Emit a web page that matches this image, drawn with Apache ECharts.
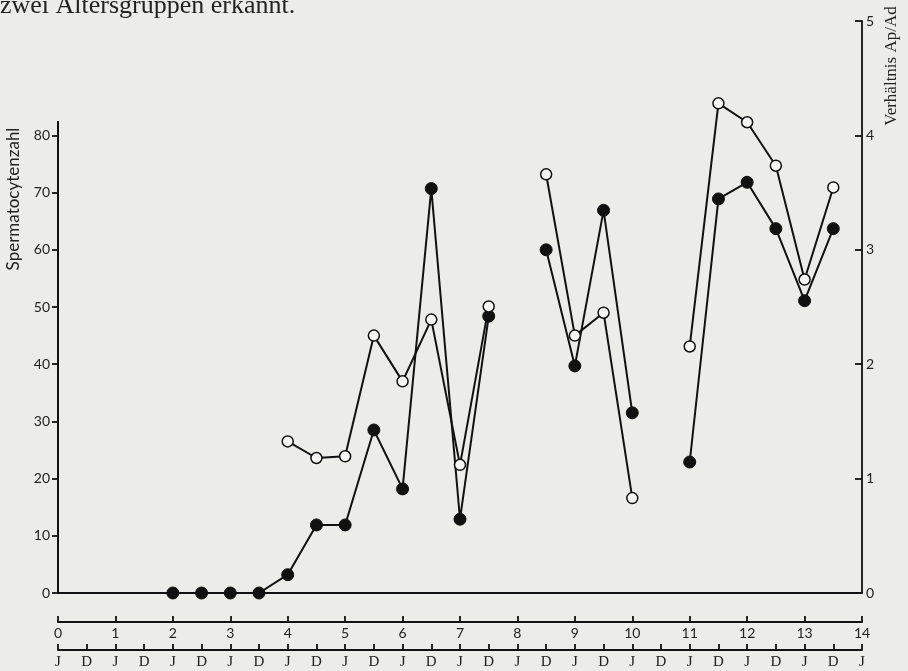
<!DOCTYPE html>
<html>
<head>
<meta charset="utf-8">
<script src="https://cdn.jsdelivr.net/npm/echarts@6/dist/echarts.min.js"></script>
<style>
html,body{margin:0;padding:0;background:#ecece8;}
#c{width:908px;height:671px;}
</style>
</head>
<body>
<div id="c"></div>
<script>
// Age in years (half-year steps)
var ages = [2,2.5,3,3.5,4,4.5,5,5.5,6,6.5,7,7.5,8,8.5,9,9.5,10,10.5,11,11.5,12,12.5,13,13.5];
// Filled circles (Spermatocytenzahl)
var filledValues = [0,0,0,0,3.2,11.9,11.9,28.5,18.2,70.7,12.9,48.4,null,60,39.7,66.9,31.5,null,22.9,68.9,71.8,63.7,51.1,63.7];
// Open circles (Verhältnis Ap/Ad, shown in left-axis units: 20 = 1.0)
var openValues = [null,null,null,null,26.5,23.6,23.9,45,37,47.8,22.4,50.1,null,73.2,45,49,16.6,null,43.1,85.6,82.3,74.7,54.8,70.9];
var leftTicks = [0,10,20,30,40,50,60,70,80];
var rightTicks = [0,1,2,3,4,5];
var yearTicks = [0,1,2,3,4,5,6,7,8,9,10,11,12,13,14];
var halfYearLabels = ['J','D'];

function pairs(vals){ return ages.map(function(a,i){ return [a, vals[i]]; }); }

var leftAxisTop = 82.5; // where the drawn left axis line ends
var chart = echarts.init(document.getElementById('c'));
var numFont = 'Lato';
var serif = 'Liberation Serif';
var ink = '#111';
chart.setOption({
  backgroundColor: '#ecece8',
  animation: false,
  graphic: [{
    type: 'text', left: 0, top: -7,
    style: {text: 'zwei Altersgruppen erkannt.', font: '26px "Liberation Serif"', fill: '#222'}
  }, {
    type: 'text', x: 892, y: 66, rotation: Math.PI/2,
    style: {text: 'Verhältnis Ap/Ad', font: '17px "Liberation Serif"', fill: '#222', align: 'center', verticalAlign: 'middle'}
  }, {
    type: 'text', x: 14, y: 199, rotation: Math.PI/2,
    style: {text: 'Spermatocytenzahl', font: '17px "Lato"', fill: '#222', align: 'center', verticalAlign: 'middle'}
  }],
  grid: [
    {left: 58, right: 46, top: 21, bottom: 78}
  ],
  xAxis: [
    {gridIndex: 0, type: 'value', min: 0, max: 14, position: 'bottom',
     axisLine: {show: true, onZero: false, lineStyle: {color: ink, width: 1.8}},
     axisTick: {show: false}, axisLabel: {show: false}, splitLine: {show: false}},
    {gridIndex: 0, type: 'value', min: 0, max: 14, interval: 1, position: 'bottom', offset: 29,
     axisLine: {show: true, onZero: false, lineStyle: {color: ink, width: 1.8}},
     axisTick: {show: true, inside: true, length: 6, lineStyle: {color: ink, width: 1.8}},
     axisLabel: {show: true, margin: 4, color: '#222', fontFamily: numFont, fontSize: 14,
       customValues: yearTicks},
     splitLine: {show: false}},
    {gridIndex: 0, type: 'value', min: 0, max: 14, interval: 0.5, position: 'bottom', offset: 57,
     axisLine: {show: true, onZero: false, lineStyle: {color: ink, width: 1.8}},
     axisTick: {show: true, inside: true, length: 6, lineStyle: {color: ink, width: 1.8}},
     axisLabel: {show: true, margin: 5, color: '#222', fontFamily: serif, fontSize: 15,
       formatter: function(v){ return halfYearLabels[Math.round(v*2) % 2]; }},
     splitLine: {show: false}}
  ],
  yAxis: [
    {gridIndex: 0, type: 'value', min: 0, max: 100, position: 'left',
     axisLine: {show: false, lineStyle: {color: 'rgba(0,0,0,0)'}},
     axisTick: {show: true, length: 6, customValues: leftTicks, lineStyle: {color: ink, width: 1.8}},
     axisLabel: {show: true, margin: 8, color: '#222', fontFamily: numFont, fontSize: 14, customValues: leftTicks},
     splitLine: {show: false}},
    {gridIndex: 0, type: 'value', min: 0, max: 5, interval: 1, position: 'right',
     axisLine: {show: true, onZero: false, lineStyle: {color: ink, width: 1.8}},
     axisTick: {show: true, inside: true, length: 7, lineStyle: {color: ink, width: 1.8}},
     axisLabel: {show: true, margin: 4, color: '#222', fontFamily: numFont, fontSize: 14, customValues: rightTicks},
     splitLine: {show: false}}
  ],
  series: [
    {type: 'line', name: 'filled', xAxisIndex: 0, yAxisIndex: 0, data: pairs(filledValues),
     connectNulls: false, symbol: 'circle', symbolSize: 12,
     lineStyle: {color: ink, width: 2},
     itemStyle: {color: ink, borderColor: ink, borderWidth: 1}, z: 3,
     markLine: {silent: true, symbol: 'none', label: {show: false}, animation: false,
       lineStyle: {color: ink, width: 2, type: 'solid'},
       data: [[{coord: [0, 0]}, {coord: [0, leftAxisTop]}]]}},
    {type: 'line', name: 'open', xAxisIndex: 0, yAxisIndex: 0, data: pairs(openValues),
     connectNulls: false, symbol: 'circle', symbolSize: 11, showAllSymbol: true,
     lineStyle: {color: ink, width: 2},
     itemStyle: {color: '#f7f7f5', borderColor: ink, borderWidth: 1.5}, z: 4}
  ]
});
</script>
</body>
</html>
